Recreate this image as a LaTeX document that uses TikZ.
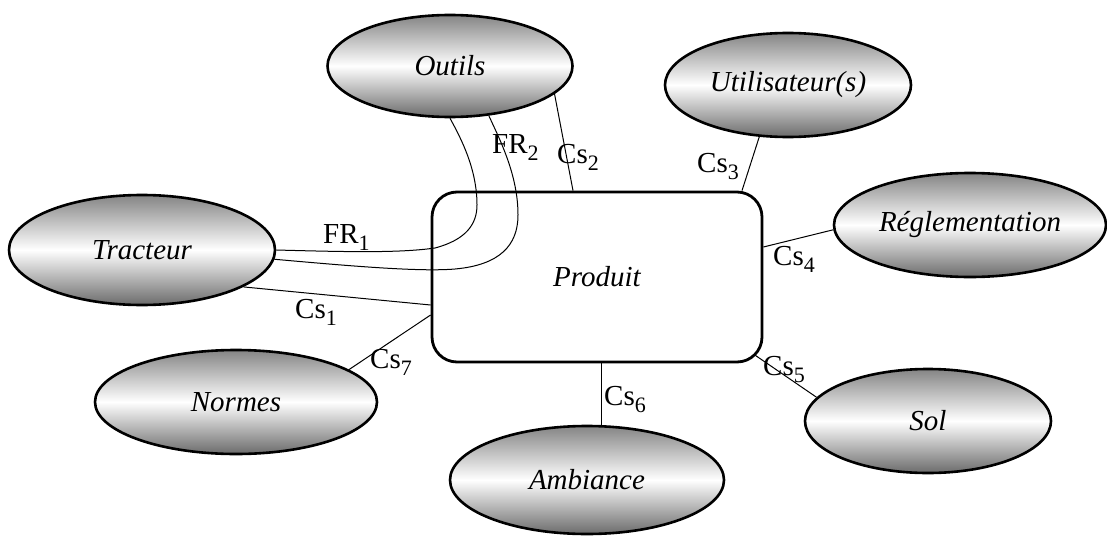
\documentclass[tikz,border=0pt]{standalone}
\usepackage{fontspec}
\setmainfont{Liberation Serif}
\usetikzlibrary{shapes.geometric,calc}
\newcommand\lowsub[1]{\raisebox{-7pt}{\fontsize{22}{22}\selectfont #1}}
\begin{document}
\begin{tikzpicture}[x=1pt,y=-1pt,
  ell/.style={ellipse, draw, line width=2.6pt, inner sep=0pt, top color=black!48, bottom color=black!58, middle color=white, font=\fontsize{29}{34}\selectfont\itshape},
  prod/.style={rectangle, rounded corners=25pt, draw, line width=2.8pt, minimum width=330pt, minimum height=170pt, font=\fontsize{29}{34}\selectfont\itshape},
  conn/.style={line width=1pt},
  lab/.style={anchor=base west, inner sep=0pt, font=\fontsize{29}{34}\selectfont}]
\useasboundingbox (0,0) rectangle (1107,535);
\node[ell, minimum width=245pt, minimum height=102pt] (outils) at (450,66) {Outils};
\node[ell, minimum width=246pt, minimum height=104pt] (utilisateur) at (788,85) {Utilisateur(s)};
\node[ell, minimum width=272pt, minimum height=104pt] (reglementation) at (970,225) {Réglementation};
\node[ell, minimum width=266pt, minimum height=110pt] (tracteur) at (142,250) {Tracteur};
\node[ell, minimum width=282pt, minimum height=104pt] (normes) at (236,402) {Normes};
\node[ell, minimum width=274pt, minimum height=108pt] (ambiance) at (587,480) {Ambiance};
\node[ell, minimum width=246pt, minimum height=104pt] (sol) at (928,421) {Sol};
\node[prod] (produit) at (597,277) {Produit};

\draw[conn] (tracteur.east) .. controls (350,252) and (400,253) .. (435,248) .. controls (465,240) and (477,225) .. (477,205) .. controls (477,170) and (462,140) .. (outils.south);
\draw[conn] (tracteur.-4.5) .. controls (350,266) and (420,272) .. (455,269) .. controls (500,265) and (518,245) .. (518,215) .. controls (518,175) and (500,140) .. (outils.-52);
\draw[conn] (tracteur.-20) -- ([yshift=-28pt]produit.west);
\draw[conn] (outils.-15.2) -- ([xshift=-24pt]produit.north);
\draw[conn] (utilisateur.-119) -- ([xshift=145pt]produit.north);
\draw[conn] ([yshift=30pt]produit.east) -- (reglementation.182);
\draw[conn] ($(produit.south east)+(-8,-8)$) -- (sol.168);
\draw[conn] ([xshift=4pt]produit.south) -- ([xshift=4pt]produit.south |- ambiance.north);
\draw[conn] ([yshift=-38pt]produit.west) -- (normes.16);

\node[lab] (fr1) at (323,243) {FR\lowsub{1}};
\node[lab] (cs1) at (295,318) {Cs\lowsub{1}};
\node[lab] (fr2) at (492,153) {FR\lowsub{2}};
\node[lab] (cs2) at (557,163) {Cs\lowsub{2}};
\node[lab] (cs3) at (697,172) {Cs\lowsub{3}};
\node[lab] (cs4) at (773,265) {Cs\lowsub{4}};
\node[lab] (cs5) at (763,375) {Cs\lowsub{5}};
\node[lab] (cs6) at (604,405) {Cs\lowsub{6}};
\node[lab] (cs7) at (370,368) {Cs\lowsub{7}};
\end{tikzpicture}
\end{document}
